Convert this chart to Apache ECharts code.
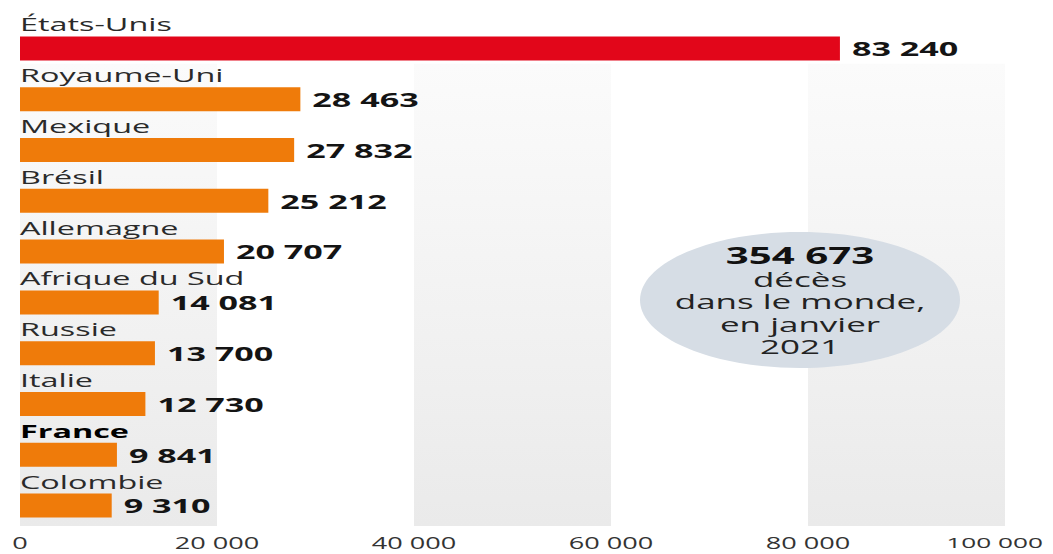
<!DOCTYPE html>
<html>
<head>
<meta charset="utf-8">
<script src="https://cdn.jsdelivr.net/npm/echarts@6/dist/echarts.min.js"></script>
<style>
  html, body { margin: 0; padding: 0; background: #fff; }
  #wrap { width: 1053px; height: 554px; overflow: hidden; }
  #chart { width: 602px; height: 554px; transform: scaleX(1.7492); transform-origin: 0 0; }
</style>
</head>
<body>
<div id="wrap"><div id="chart"></div></div>
<script>
// ---- data ----
const countries = ['États-Unis', 'Royaume-Uni', 'Mexique', 'Brésil', 'Allemagne',
  'Afrique du Sud', 'Russie', 'Italie', 'France', 'Colombie'];
const deaths = [83240, 28463, 27832, 25212, 20707, 14081, 13700, 12730, 9841, 9310];
const highlightCountry = 'France';
const leaderCountry = 'États-Unis';
const worldTotal = 354673;
const totalCaption = ['décès', 'dans le monde,', 'en janvier', '2021'];
const xTicks = [0, 20000, 40000, 60000, 80000, 100000];
const bandStarts = [0, 40000, 80000];
const bandWidth = 20000;

// ---- helpers ----
const S = 1053 / 602; // horizontal stretch applied by CSS
const fmt = v => String(v).replace(/\B(?=(\d{3})+(?!\d))/g, ' ');
const FONT = "'Open Sans', 'DejaVu Sans', sans-serif";
const xMax = xTicks[xTicks.length - 1];

const barData = countries.map((c, i) => ({
  value: deaths[i],
  itemStyle: { color: c === leaderCountry ? '#e2061a' : '#ef7b0a' }
}));
const nameData = countries.map((c, i) => ({
  value: deaths[i],
  label: c === highlightCountry ? { fontWeight: 'bold', color: '#000' } : {}
}));

const bandGradient = {
  type: 'linear', x: 0, y: 0, x2: 0, y2: 1,
  colorStops: [{ offset: 0, color: '#fbfbfb' }, { offset: 1, color: '#eaeaea' }]
};
const bandAreas = bandStarts.map(b => [
  { coord: [b, 0.8] },
  { coord: [b + bandWidth, 9.9] }
]);

// bubble annotation texts (one element per line)
const bubbleLines = [{ t: fmt(worldTotal), bold: true }].concat(totalCaption.map(t => ({ t, bold: false })));
const bubbleTexts = bubbleLines.map((l, i) => ({
  type: 'text', z: 101, silent: true,
  x: 800 / S, y: i === 0 ? 255 : 279 + (i - 1) * 22.5,
  style: {
    text: l.t,
    fontFamily: FONT, fontSize: l.bold ? 23 : 20, fontWeight: l.bold ? 'bold' : 'normal',
    fill: l.bold ? '#111' : '#222',
    align: 'center', verticalAlign: 'middle',
    textAlign: 'center', textVerticalAlign: 'middle'
  }
}));

const chart = echarts.init(document.getElementById('chart'), null, { renderer: 'svg' });
chart.setOption({
  animation: false,
  backgroundColor: '#ffffff',
  grid: { left: 20 / S, right: 48 / S, top: 23, bottom: 23, containLabel: false, outerBoundsMode: 'none' },
  xAxis: {
    type: 'value', min: xTicks[0], max: xMax, interval: 20000,
    axisLine: { show: false }, axisTick: { show: false }, splitLine: { show: false },
    axisLabel: {
      margin: 4, fontFamily: FONT, fontSize: 15.5, color: '#333',
      formatter: v => v === xMax ? '{m|' + fmt(v) + '}' : fmt(v),
      rich: {
        m: { fontFamily: FONT, fontSize: 15, color: '#333', padding: [0, 12, 0, 0] }
      }
    }
  },
  yAxis: [
    { type: 'category', data: countries, inverse: true, show: false },
    { type: 'value', min: 0, max: 10, inverse: true, show: false }
  ],
  series: [
    {
      type: 'scatter', data: [], xAxisIndex: 0, yAxisIndex: 1, silent: true, z: 0,
      markArea: { silent: true, itemStyle: { color: bandGradient }, data: bandAreas }
    },
    {
      type: 'bar', data: barData, barWidth: 24, z: 3,
      label: {
        show: true, position: 'right', distance: 12 / S,
        fontFamily: FONT, fontSize: 19.5, fontWeight: 'bold', color: '#141414',
        formatter: p => fmt(p.value)
      }
    },
    {
      type: 'bar', data: nameData, barWidth: 24, barGap: '-100%', z: 4,
      itemStyle: { color: 'rgba(0,0,0,0)' },
      label: {
        show: true, position: [0, -2], align: 'left', verticalAlign: 'bottom',
        fontFamily: FONT, fontSize: 18.5, lineHeight: 20, color: '#2a2a2a',
        formatter: p => p.name
      }
    }
  ],
  graphic: [
    {
      type: 'ellipse', shape: { cx: 800 / S, cy: 300, rx: 160 / S, ry: 68 },
      style: { fill: '#d6dde5' }, z: 100, silent: true
    }
  ].concat(bubbleTexts)
});
</script>
</body>
</html>
